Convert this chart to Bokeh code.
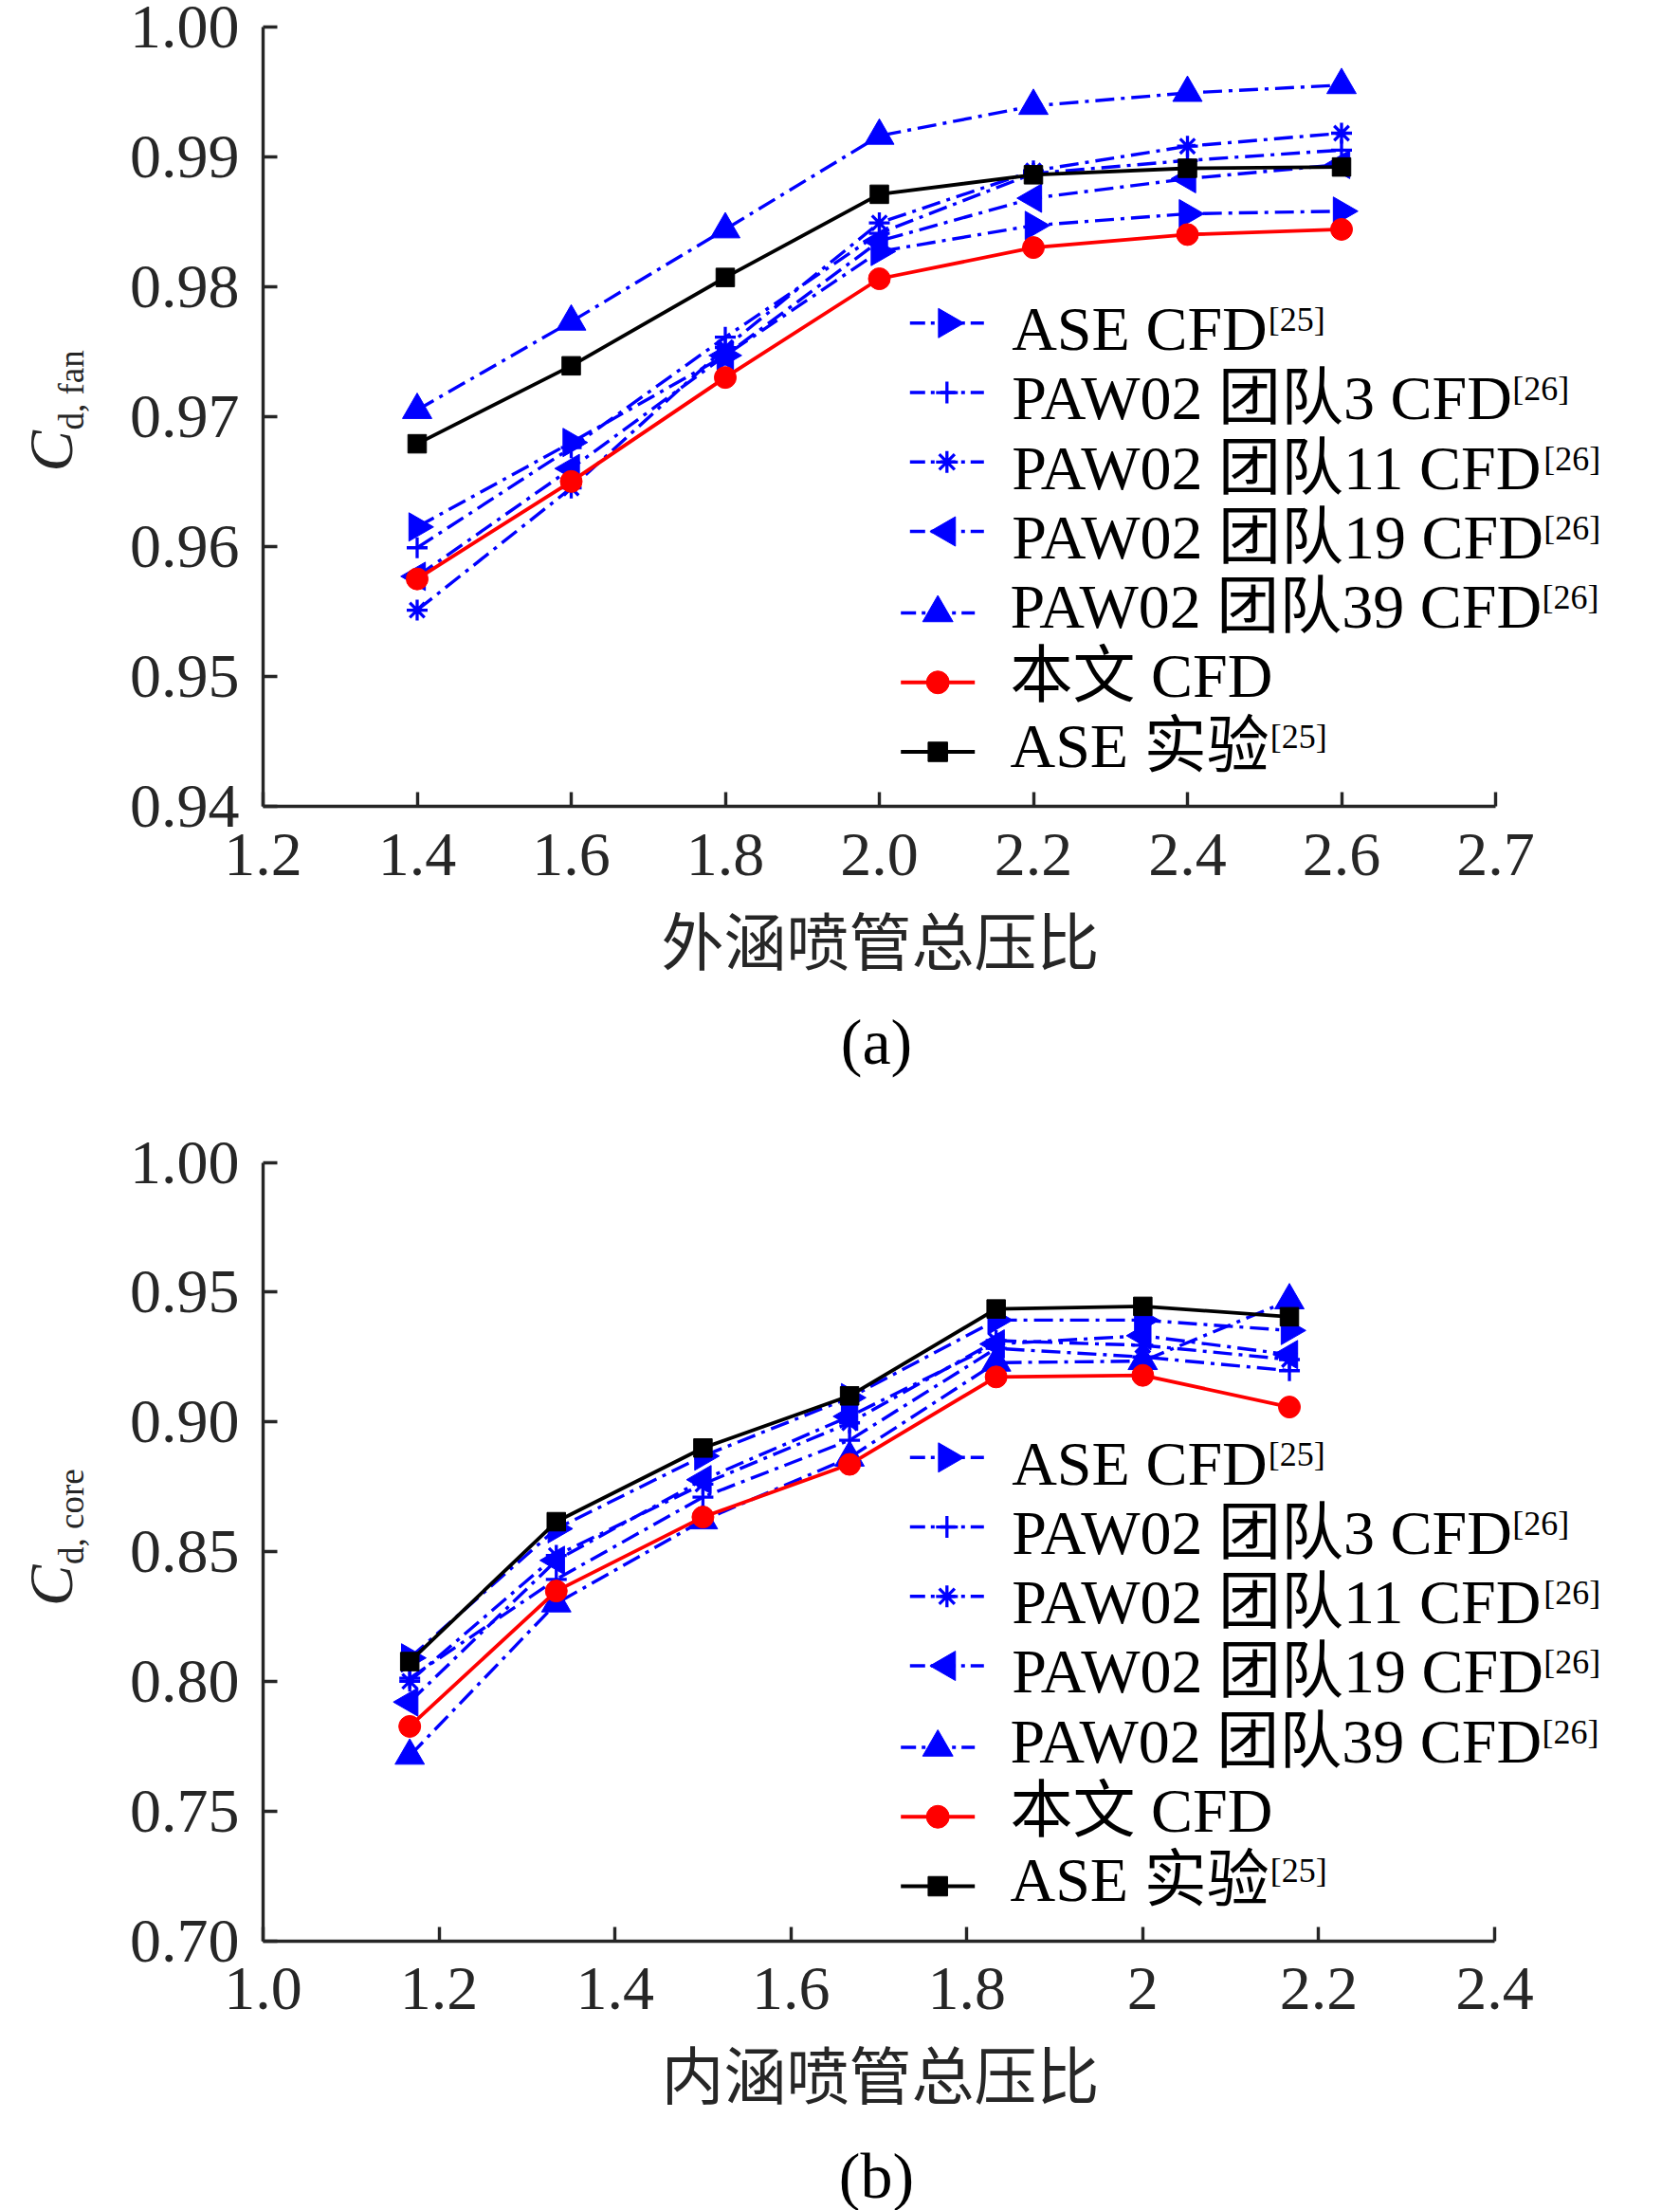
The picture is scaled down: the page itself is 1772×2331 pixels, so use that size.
import math
from bokeh.plotting import figure
from bokeh.models import Range1d, FixedTicker, Label
from bokeh.layouts import column
from bokeh.embed import file_html
from bokeh.resources import INLINE

SERIF = "Liberation Serif"
SERIF_CJK = "Liberation Serif, Noto Sans CJK SC"

# ---------------- data: (a) bypass (fan) nozzle ----------------
fan_x = [1.4, 1.6, 1.8, 2.0, 2.2, 2.4, 2.6]
fan_ase_cfd = [0.9615, 0.9680, 0.9747, 0.9827, 0.9847, 0.9856, 0.9858]
fan_team3 = [0.9599, 0.9676, 0.9761, 0.9841, 0.9887, 0.9897, 0.9905]
fan_team11 = [0.9551, 0.9645, 0.9753, 0.9849, 0.9889, 0.9908, 0.9918]
fan_team19 = [0.9577, 0.9660, 0.9747, 0.9835, 0.9868, 0.9883, 0.9894]
fan_team39 = [0.9705, 0.9773, 0.9844, 0.9916, 0.9939, 0.9949, 0.9955]
fan_this_cfd = [0.9575, 0.9650, 0.9730, 0.9806, 0.9830, 0.9840, 0.9844]
fan_ase_exp = [0.9679, 0.9739, 0.9807, 0.9871, 0.9886, 0.9891, 0.9892]

fan_xticks = [1.2, 1.4, 1.6, 1.8, 2.0, 2.2, 2.4, 2.6, 2.8]
fan_xlabels = ["1.2", "1.4", "1.6", "1.8", "2.0", "2.2", "2.4", "2.6", "2.7"]
fan_yticks = [0.94, 0.95, 0.96, 0.97, 0.98, 0.99, 1.00]
fan_ylabels = ["0.94", "0.95", "0.96", "0.97", "0.98", "0.99", "1.00"]

# ---------------- data: (b) core nozzle ----------------
core_x = [1.1667, 1.3333, 1.5, 1.6667, 1.8333, 2.0, 2.1667]
core_ase_cfd = [0.8090, 0.8588, 0.8868, 0.9093, 0.9392, 0.9392, 0.9352]
core_team3 = [0.8012, 0.8393, 0.8710, 0.8929, 0.9283, 0.9250, 0.9197]
core_team11 = [0.8000, 0.8485, 0.8760, 0.8996, 0.9313, 0.9295, 0.9240]
core_team19 = [0.7920, 0.8466, 0.8777, 0.9021, 0.9300, 0.9332, 0.9259]
core_team39 = [0.7713, 0.8300, 0.8620, 0.8862, 0.9228, 0.9234, 0.9468]
core_this_cfd = [0.7826, 0.8348, 0.8633, 0.8836, 0.9173, 0.9179, 0.9057]
core_ase_exp = [0.8076, 0.8615, 0.8899, 0.9100, 0.9435, 0.9445, 0.9405]

core_xticks = [1.0, 1.2, 1.4, 1.6, 1.8, 2.0, 2.2, 2.4]
core_xlabels = ["1.0", "1.2", "1.4", "1.6", "1.8", "2", "2.2", "2.4"]
core_yticks = [0.70, 0.75, 0.80, 0.85, 0.90, 0.95, 1.00]
core_ylabels = ["0.70", "0.75", "0.80", "0.85", "0.90", "0.95", "1.00"]

legend_names = ["ASE CFD", "PAW02 团队3 CFD", "PAW02 团队11 CFD", "PAW02 团队19 CFD",
                "PAW02 团队39 CFD", "本文 CFD", "ASE 实验"]
legend_refs = ["[25]", "[26]", "[26]", "[26]", "[26]", "", "[25]"]

BLUE = "#0000FF"
RED = "#FF0000"
BLACK = "#000000"
AXC = "#262626"
DASHDOT = "20 7 4 7"
KEY_DASH = "16 6 4 6"

styles = [
    dict(marker="triangle", angle=-math.pi / 2, size=30, color=BLUE, dash=DASHDOT, lw=3.4),
    dict(marker="cross", angle=0.0, size=22, color=BLUE, dash=DASHDOT, lw=3.4),
    dict(marker="asterisk", angle=0.0, size=22, color=BLUE, dash=DASHDOT, lw=3.4),
    dict(marker="triangle", angle=math.pi / 2, size=30, color=BLUE, dash=DASHDOT, lw=3.4),
    dict(marker="triangle", angle=0.0, size=31, color=BLUE, dash=DASHDOT, lw=3.4),
    dict(marker="circle", angle=0.0, size=23, color=RED, dash="solid", lw=3.8),
    dict(marker="square", angle=0.0, size=19.5, color=BLACK, dash="solid", lw=3.8),
]

CHAR_W = {'A': 0.722, 'S': 0.556, 'E': 0.611, ' ': 0.25, 'C': 0.667, 'F': 0.556,
          'D': 0.722, 'P': 0.556, 'W': 0.944}
KERN = {"PA": -0.092, "AW": -0.090}


def text_width_em(s):
    w = 0.0
    for ch in s:
        if ch.isdigit():
            w += 0.5
        elif ch in CHAR_W:
            w += CHAR_W[ch]
        else:
            w += 1.0
    for pair, k in KERN.items():
        w += k * s.count(pair)
    return w


W = 1772
FONT = 66
X0C = 277            # canvas x of the y axis line
SHIFT_CJK = 0.35     # measured downward drift of alphabetic Labels, in em
SHIFT_SERIF = 0.31


def make_panel(xs, series, xb, yb, xticks, xlabels, yticks, ylabels, xlabel, sub, caption,
               height, ytop_c, ybot_c, x_end_c):
    ppu_x = (x_end_c - X0C) / (xb[1] - xb[0])
    ppu_y = (ybot_c - ytop_c) / (yb[1] - yb[0])
    x_lo = xb[0] - X0C / ppu_x
    x_hi = xb[0] + (W - X0C) / ppu_x
    y_hi = yb[1] + ytop_c / ppu_y
    y_lo = yb[0] - (height - ybot_c) / ppu_y

    p = figure(width=W, height=height, x_range=Range1d(x_lo, x_hi), y_range=Range1d(y_lo, y_hi),
               output_backend="svg", toolbar_location=None, min_border=0)
    p.xgrid.visible = False
    p.ygrid.visible = False
    p.outline_line_color = None
    p.background_fill_color = "white"
    p.border_fill_color = "white"

    p.xaxis.fixed_location = yb[0]
    p.yaxis.fixed_location = xb[0]
    p.xaxis.bounds = xb
    p.yaxis.bounds = yb
    for ax, ticks, labels in ((p.xaxis[0], xticks, xlabels), (p.yaxis[0], yticks, ylabels)):
        ax.ticker = FixedTicker(ticks=ticks)
        ax.major_label_overrides = {t: l for t, l in zip(ticks, labels)}
        ax.axis_line_width = 3.4
        ax.axis_line_color = AXC
        ax.major_tick_line_width = 3.4
        ax.major_tick_line_color = AXC
        ax.major_tick_in = 15
        ax.major_tick_out = 0
        ax.minor_tick_line_color = None
        ax.major_label_text_font = SERIF
        ax.major_label_text_font_size = f"{FONT}px"
        ax.major_label_text_color = AXC
    p.xaxis.major_label_standoff = 29
    p.yaxis.major_label_standoff = 25

    def sx(rel):   # horizontal pixel offset from the y axis -> data x
        return xb[0] + rel / ppu_x

    def sy(above):  # vertical pixel offset above the x axis -> data y
        return yb[0] + above / ppu_y

    def screen_y(above):
        return (height - ybot_c) + above

    # ---- data series (blue first, then red, then black on top) ----
    for i in range(7):
        st = styles[i]
        ys = series[i]
        p.line(xs, ys, line_color=st["color"], line_width=st["lw"], line_dash=st["dash"])
        if st["marker"] in ("cross", "asterisk"):
            p.scatter(xs, ys, marker=st["marker"], size=st["size"], line_color=st["color"],
                      line_width=3.3, fill_color=None)
        else:
            p.scatter(xs, ys, marker=st["marker"], size=st["size"], angle=st["angle"],
                      line_color=st["color"], fill_color=st["color"], line_width=1)

    # ---- legend (keys + labels) ----
    for i in range(7):
        st = styles[i]
        base = 480.7 - 73.25 * i                   # text baseline above the x axis
        key = base + (29.0 if i < 4 else 16.3)     # key line height above the x axis
        kcx = 721.3 if i < 4 else 711.7            # key centre right of the y axis
        tx = 789.7 if i < 4 else 788.0
        p.line([sx(kcx - 39), sx(kcx + 39)], [sy(key), sy(key)], line_color=st["color"],
               line_width=st["lw"], line_dash=KEY_DASH if st["dash"] != "solid" else "solid")
        if st["marker"] in ("cross", "asterisk"):
            p.scatter([sx(kcx)], [sy(key)], marker=st["marker"], size=st["size"] + 1,
                      line_color=st["color"], line_width=3.3, fill_color=None)
        else:
            p.scatter([sx(kcx)], [sy(key)], marker=st["marker"], size=st["size"] + 1,
                      angle=st["angle"], line_color=st["color"], fill_color=st["color"],
                      line_width=1)
        p.add_layout(Label(x=X0C + tx, y=screen_y(base + SHIFT_CJK * FONT), x_units="screen",
                           y_units="screen", text=legend_names[i], text_font=SERIF_CJK,
                           text_font_size=f"{FONT}px", text_color="black",
                           text_baseline="alphabetic", text_align="left"))
        if legend_refs[i]:
            rx = X0C + tx + text_width_em(legend_names[i]) * FONT + 1
            p.add_layout(Label(x=rx, y=screen_y(base + 21.6 + SHIFT_SERIF * 36),
                               x_units="screen", y_units="screen", text=legend_refs[i],
                               text_font=SERIF, text_font_size="36px", text_color="black",
                               text_baseline="alphabetic", text_align="left"))

    # ---- y axis label  C_{d, sub} ----
    p.add_layout(Label(x=X0C - 203.7 - SHIFT_SERIF * 65, y=screen_y(353), x_units="screen",
                       y_units="screen", text="C", angle=math.pi / 2, text_font=SERIF,
                       text_font_size="65px", text_font_style="italic", text_color=AXC,
                       text_baseline="alphabetic", text_align="left"))
    p.add_layout(Label(x=X0C - 190.3 - SHIFT_SERIF * 37, y=screen_y(397), x_units="screen",
                       y_units="screen", text="d, " + sub, angle=math.pi / 2, text_font=SERIF,
                       text_font_size="37px", text_color=AXC, text_baseline="alphabetic",
                       text_align="left"))

    # ---- x axis label and caption ----
    p.add_layout(Label(x=X0C + 651, y=screen_y(-144.7), x_units="screen", y_units="screen",
                       text=xlabel, text_font=SERIF_CJK, text_font_size="66px",
                       text_color=AXC, text_baseline="alphabetic", text_align="center"))
    p.add_layout(Label(x=X0C + 647, y=screen_y(-248), x_units="screen", y_units="screen",
                       text=caption, text_font=SERIF, text_font_size="68px",
                       text_color="black", text_baseline="alphabetic", text_align="center"))
    return p


H_A = 1160
H_B = 2331 - H_A
pa = make_panel(fan_x, [fan_ase_cfd, fan_team3, fan_team11, fan_team19, fan_team39,
                        fan_this_cfd, fan_ase_exp],
                (1.2, 2.8), (0.94, 1.00), fan_xticks, fan_xlabels, fan_yticks, fan_ylabels,
                "外涵喷管总压比", "fan", "(a)", H_A, 27.6, 850.0, 1577.0)
pb = make_panel(core_x, [core_ase_cfd, core_team3, core_team11, core_team19, core_team39,
                         core_this_cfd, core_ase_exp],
                (1.0, 2.4), (0.70, 1.00), core_xticks, core_xlabels, core_yticks, core_ylabels,
                "内涵喷管总压比", "core", "(b)", H_B, 1225.5 - H_A, 2046.5 - H_A, 1576.0)

layout = column(pa, pb, spacing=0)
open("out.html", "w").write(file_html(layout, INLINE))
